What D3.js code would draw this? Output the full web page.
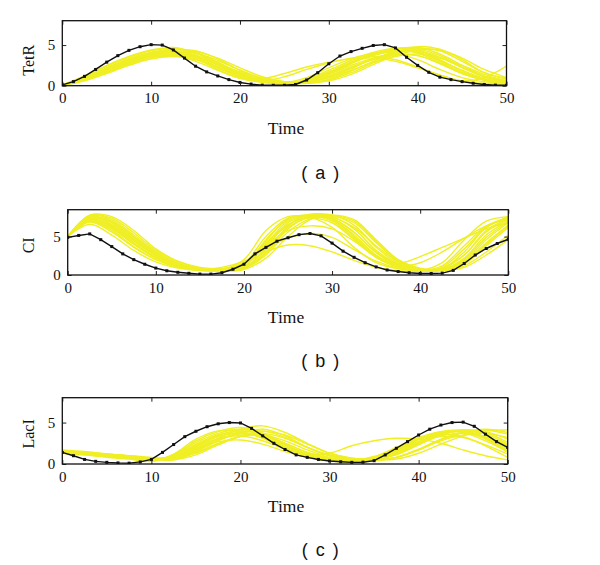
<!DOCTYPE html>
<html><head><meta charset="utf-8">
<script src="https://cdn.jsdelivr.net/npm/d3@7"></script>
<style>body{margin:0;background:#fff}svg{display:block}</style>
</head><body>
<svg id="chart" width="600" height="565"></svg>
<script>
// ---------- DATA ----------
const panelNames = ["TetR", "CI", "LacI"];
const panelCaptions = ["( a )", "( b )", "( c )"];
const xTicks = [0, 10, 20, 30, 40, 50];
const yTicks = [0, 5];
const yMax = [8, 8.5, 8];

const timeBlack = [0,1.25,2.5,3.75,5,6.25,7.5,8.75,10,11.25,12.5,13.75,15,16.25,17.5,18.75,20,21.25,22.5,23.75,25,26.25,27.5,28.75,30,31.25,32.5,33.75,35,36.25,37.5,38.75,40,41.25,42.5,43.75,45,46.25,47.5,48.75,50];
const tetrBlack = [0.1,0.5,1.15,2.0,2.9,3.7,4.35,4.8,5.05,5.0,4.4,3.4,2.4,1.7,1.2,0.75,0.4,0.2,0.07,0.05,0.05,0.15,0.7,1.6,2.7,3.65,4.2,4.6,4.95,5.05,4.65,3.5,2.5,1.65,1.05,0.75,0.5,0.3,0.15,0.07,0.05];
const ciBlack = [4.9,5.15,5.35,4.6,3.7,2.75,2.0,1.4,0.9,0.55,0.35,0.22,0.12,0.12,0.3,0.75,1.4,2.75,3.6,4.4,4.85,5.25,5.4,5.1,4.15,3.1,2.3,1.6,1.05,0.65,0.45,0.3,0.2,0.2,0.25,0.6,1.5,2.6,3.45,4.1,4.65];
const laciBlack = [1.4,1.0,0.55,0.32,0.2,0.13,0.1,0.25,0.55,1.4,2.35,3.3,3.95,4.5,4.85,5.0,4.95,4.3,3.4,2.5,1.75,1.1,0.8,0.55,0.37,0.27,0.2,0.22,0.4,1.1,1.9,2.7,3.5,4.2,4.7,5.0,5.05,4.55,3.6,2.7,2.0];

const timeYellow = [0,2.5,5,7.5,10,12.5,15,17.5,20,22.5,25,27.5,30,32.5,35,37.5,40,42.5,45,47.5,50];
const tetrYellow = [
  [0.1,1.0,2.2,3.3,4.1,4.3,3.6,2.3,1.1,0.5,0.3,0.7,1.7,2.9,3.9,4.4,4.0,2.8,1.5,0.7,0.4],
  [0.0,0.7,1.7,2.7,3.5,3.8,3.3,2.2,1.1,0.5,0.4,1.0,2.2,3.3,4.0,4.0,3.2,2.0,1.0,0.5,0.3],
  [0.1,1.1,2.4,3.5,4.3,4.6,4.1,2.9,1.6,0.7,0.3,0.4,1.0,2.1,3.3,4.2,4.5,3.7,2.3,1.1,0.5],
  [0.1,0.8,1.8,2.8,3.5,3.7,3.0,1.9,0.9,0.6,1.1,2.0,2.8,3.4,3.6,3.2,2.3,1.3,0.6,0.3,0.2],
  [0.0,0.9,2.0,3.1,3.9,4.4,4.3,3.3,1.9,0.9,0.4,0.3,0.7,1.6,2.8,3.9,4.6,4.3,3.0,1.6,0.8],
  [0.1,0.9,2.0,3.0,3.7,4.1,3.7,2.6,1.4,0.6,0.3,0.4,1.1,2.2,3.3,4.1,4.3,3.5,2.2,1.1,0.5],
  [0.0,0.6,1.5,2.5,3.3,3.7,3.5,2.6,1.5,0.7,0.4,0.6,1.4,2.5,3.4,3.9,3.7,2.7,1.5,0.7,0.3],
  [0.1,1.2,2.5,3.6,4.4,4.7,4.0,2.6,1.3,0.5,0.2,0.5,1.5,2.8,3.9,4.6,4.4,3.2,1.8,0.8,0.4],
  [0.0,0.8,1.9,3.0,3.8,4.1,3.5,2.3,1.2,0.9,1.5,2.3,2.9,3.3,3.4,3.0,2.2,1.3,0.6,1.0,2.4],
  [0.1,0.9,1.9,2.9,3.7,4.2,4.2,3.4,2.2,1.1,0.5,0.3,0.6,1.4,2.6,3.7,4.4,4.4,3.4,2.0,1.0],
  [0.0,0.7,1.6,2.6,3.3,3.6,3.2,2.2,1.1,0.5,0.2,0.4,1.2,2.3,3.2,3.8,3.7,2.8,1.6,0.8,0.4],
  [0.1,1.0,2.2,3.3,4.1,4.5,4.0,2.8,1.5,0.7,0.3,0.5,1.4,2.7,3.8,4.5,4.7,3.9,2.5,1.2,0.6],
  [0.0,0.9,2.0,3.1,3.9,4.0,3.3,2.0,0.9,0.4,0.2,0.8,1.9,3.1,4.1,4.6,4.2,3.0,1.6,0.7,0.3],
  [0.1,0.7,1.7,2.7,3.6,4.1,4.0,3.1,1.9,0.9,0.4,0.3,0.8,1.8,3.0,4.1,4.8,4.5,3.2,1.6,0.9],
  [0.0,0.8,1.9,2.9,3.6,3.9,3.6,2.7,1.7,0.9,0.5,0.5,1.0,1.9,2.9,3.6,3.9,3.4,2.5,1.4,0.6],
  [0.1,1.0,2.1,3.2,4.0,4.2,3.8,2.5,1.2,0.5,0.3,0.6,1.6,2.8,3.7,4.3,4.1,3.1,1.9,0.9,0.4]
];
const ciYellow = [
  [5.0,7.3,6.3,4.2,2.3,1.1,0.6,0.6,1.5,5.0,7.4,7.7,7.0,4.8,2.3,1.0,0.6,0.8,3.0,6.2,7.4],
  [5.0,7.7,7.2,5.2,3.0,1.5,0.8,0.6,0.9,3.5,6.8,7.8,7.8,6.5,3.6,1.5,0.7,0.6,1.8,4.6,6.8],
  [5.0,7.0,5.8,3.7,2.0,1.0,0.6,0.7,2.0,5.8,7.6,7.5,6.2,3.6,1.6,0.8,0.6,1.6,4.6,7.0,7.6],
  [5.0,7.5,6.8,4.7,2.7,1.4,0.7,0.5,0.7,2.2,5.0,7.2,7.8,7.2,4.6,2.0,0.9,0.6,1.0,2.6,4.6],
  [5.0,7.1,6.0,4.0,2.2,1.1,0.7,0.8,1.6,4.2,6.6,7.4,6.8,4.6,2.3,1.2,1.6,3.0,4.8,6.4,7.2],
  [5.0,7.8,7.4,5.5,3.2,1.7,0.9,0.7,0.9,3.0,6.4,7.9,7.6,6.0,3.2,1.4,0.7,0.6,1.4,3.8,6.2],
  [5.0,6.6,5.2,3.2,1.7,0.9,0.6,0.7,1.5,3.0,3.9,3.8,3.0,1.9,1.0,0.6,0.5,1.0,3.4,6.2,7.6],
  [5.0,7.4,6.6,4.6,2.6,1.3,0.7,0.6,1.1,4.0,7.0,7.7,7.4,5.6,2.9,1.2,0.6,0.7,2.2,5.2,7.0],
  [5.0,7.2,6.2,4.1,2.3,1.2,0.7,0.7,1.3,4.6,7.2,7.8,7.2,5.2,2.6,1.1,0.6,0.9,2.6,5.6,7.2],
  [5.0,7.6,7.0,5.0,2.9,1.5,0.8,0.6,0.8,2.6,5.6,7.3,7.6,6.8,4.2,1.8,0.8,0.6,1.2,3.0,5.2],
  [5.0,6.9,5.6,3.6,2.0,1.1,0.8,1.0,1.8,3.4,4.8,5.4,4.9,3.3,1.8,0.9,0.6,1.2,3.8,6.4,7.4],
  [5.0,7.8,7.6,5.8,3.4,1.8,1.0,0.8,0.9,2.8,6.0,7.6,7.8,7.0,4.4,1.9,0.8,0.6,1.5,4.0,6.4],
  [5.0,7.3,6.4,4.4,2.5,1.3,0.8,0.7,1.2,4.4,7.3,7.8,7.2,5.0,2.5,1.1,0.6,0.8,2.6,5.8,7.3],
  [5.0,7.0,6.1,4.0,2.3,1.2,0.8,0.8,1.4,3.8,5.8,6.4,6.0,4.4,2.4,1.5,2.4,3.6,4.8,6.0,6.8],
  [5.0,7.5,6.9,4.9,2.8,1.4,0.8,0.7,1.0,3.3,6.2,7.5,7.5,6.2,3.8,1.7,0.7,0.7,2.0,4.9,6.9],
  [5.0,7.2,6.5,4.5,2.6,1.3,0.7,0.6,1.2,3.9,6.5,7.6,7.3,5.5,3.0,1.3,0.6,0.7,1.7,4.2,6.5]
];
const laciYellow = [
  [1.5,1.3,1.1,0.9,0.6,0.9,2.3,3.5,4.0,3.6,2.3,1.2,0.6,0.5,0.8,1.8,3.0,3.8,4.0,3.3,2.2],
  [1.6,1.4,1.2,1.0,0.7,0.6,1.5,2.8,3.8,4.2,3.4,2.0,1.0,0.6,0.5,1.2,2.4,3.5,4.1,3.9,3.0],
  [1.4,1.2,0.9,0.7,0.4,1.1,2.8,3.9,4.4,3.7,2.3,1.1,0.5,0.4,0.9,2.0,3.2,3.9,3.8,2.8,1.5],
  [1.5,1.3,1.1,0.9,0.6,0.5,1.1,2.3,3.3,3.7,3.1,2.0,1.1,0.6,0.4,0.8,1.8,3.0,3.8,4.1,3.6],
  [1.3,1.1,0.9,0.7,0.5,0.8,2.0,3.1,3.4,2.8,1.8,1.2,1.3,2.2,2.8,3.1,3.0,2.5,1.7,1.0,0.5],
  [1.6,1.4,1.2,1.0,0.8,0.7,1.7,3.1,4.2,4.6,3.8,2.5,1.3,0.7,0.5,0.8,1.7,2.9,3.8,4.2,3.8],
  [1.4,1.2,1.0,0.8,0.5,0.8,1.9,2.7,2.9,2.4,1.5,0.8,0.4,0.4,0.8,1.7,2.7,3.3,3.2,2.3,1.2],
  [1.5,1.3,1.0,0.8,0.5,0.9,2.4,3.5,4.0,3.5,2.3,1.2,0.6,0.4,0.6,1.5,2.7,3.7,4.1,3.6,2.4],
  [1.7,1.5,1.2,1.0,0.7,0.7,1.6,2.9,3.8,4.0,3.2,2.0,1.0,0.5,0.5,1.1,2.3,3.5,4.1,3.8,2.6],
  [1.4,1.2,1.0,0.8,0.5,0.8,2.1,3.3,3.8,3.3,2.1,1.1,0.5,0.3,0.7,1.7,3.0,3.9,4.0,3.1,1.6],
  [1.5,1.3,1.1,0.9,0.6,0.5,1.4,2.5,3.3,3.5,2.8,1.7,0.8,0.4,0.4,0.8,1.7,2.8,3.5,3.7,3.2],
  [1.6,1.3,1.1,0.9,0.6,1.0,2.6,3.7,4.2,3.7,2.5,1.4,0.7,0.4,0.6,1.4,2.6,3.6,3.9,3.2,1.8],
  [1.3,1.1,0.8,0.6,0.3,1.2,3.0,4.0,3.9,3.1,1.9,0.9,0.4,0.3,0.8,1.9,3.0,3.6,3.3,2.2,0.8],
  [1.5,1.3,1.1,0.9,0.7,0.6,1.3,2.4,3.4,3.9,3.5,2.4,1.3,0.7,0.5,0.6,1.3,2.4,3.4,4.0,4.1],
  [1.4,1.2,1.0,0.8,0.6,0.7,1.8,3.0,3.6,3.4,2.5,1.4,0.7,0.4,0.6,1.3,2.5,3.4,3.7,3.3,2.3],
  [1.6,1.4,1.1,0.9,0.6,0.9,2.2,3.3,3.7,3.2,2.0,1.0,0.5,0.3,0.6,1.6,2.9,3.8,3.9,3.0,1.4]
];
const blackSeries = [tetrBlack, ciBlack, laciBlack];
const yellowSeries = [tetrYellow, ciYellow, laciYellow];

// ---------- LAYOUT ----------
const panels = [
  {left: 62.3, right: 506.5, top: 20.7, bottom: 85.7, capY: 173},
  {left: 67.7, right: 508.3, top: 209.7, bottom: 275, capY: 361},
  {left: 62.3, right: 507.7, top: 397.7, bottom: 464, capY: 550}
];
const serif = "'Liberation Serif', 'DejaVu Serif', serif";
const sans = "'Liberation Sans', Arial, sans-serif";

const svg = d3.select("#chart");

panels.forEach((p, i) => {
  const x = d3.scaleLinear().domain([0, 50]).range([p.left, p.right]);
  const y = d3.scaleLinear().domain([0, yMax[i]]).range([p.bottom, p.top]);
  const g = svg.append("g");

  const clipId = "clip" + i;
  svg.append("clipPath").attr("id", clipId).append("rect")
    .attr("x", p.left).attr("y", p.top)
    .attr("width", p.right - p.left).attr("height", p.bottom - p.top);

  const plot = g.append("g").attr("clip-path", `url(#${clipId})`);

  const yLine = d3.line().x((d, k) => x(timeYellow[k])).y(d => y(d)).curve(d3.curveCatmullRom.alpha(0.5));
  plot.selectAll("path.yel").data(yellowSeries[i]).join("path")
    .attr("class", "yel")
    .attr("d", yLine)
    .attr("fill", "none")
    .attr("stroke", "#efef24")
    .attr("stroke-width", 1.4);

  const bLine = d3.line().x((d, k) => x(timeBlack[k])).y(d => y(d));
  plot.append("path").datum(blackSeries[i])
    .attr("d", bLine).attr("fill", "none").attr("stroke", "#111").attr("stroke-width", 1.4);
  plot.selectAll("rect.mk").data(blackSeries[i]).join("rect")
    .attr("class", "mk")
    .attr("x", (d, k) => x(timeBlack[k]) - 1.5)
    .attr("y", d => y(d) - 1.5)
    .attr("width", 3).attr("height", 3).attr("fill", "#111");

  // axes (ticks inward, box)
  const axB = d3.axisBottom(x).tickValues(xTicks).tickSize(-4).tickPadding(7).tickFormat(d3.format("d"));
  const axT = d3.axisTop(x).tickValues(xTicks).tickSize(-4).tickFormat("");
  const axL = d3.axisLeft(y).tickValues(yTicks).tickSize(-4).tickPadding(7).tickFormat(d3.format("d"));
  const axR = d3.axisRight(y).tickValues(yTicks).tickSize(-4).tickFormat("");
  const gb = g.append("g").attr("transform", `translate(0,${p.bottom})`).call(axB);
  const gt = g.append("g").attr("transform", `translate(0,${p.top})`).call(axT);
  const gl = g.append("g").attr("transform", `translate(${p.left},0)`).call(axL);
  const gr = g.append("g").attr("transform", `translate(${p.right},0)`).call(axR);
  [gb, gt, gl, gr].forEach(a => {
    a.select(".domain").remove();
    a.selectAll("line").attr("stroke", "#222").attr("stroke-width", 1);
    a.selectAll("text").attr("font-family", serif).attr("font-size", 15).attr("fill", "#111");
  });
  gb.selectAll("text").attr("dy", "0.71em");
  g.append("rect").attr("x", p.left).attr("y", p.top)
    .attr("width", p.right - p.left).attr("height", p.bottom - p.top)
    .attr("fill", "none").attr("stroke", "#111").attr("stroke-width", 1.3);

  // labels
  g.append("text").attr("x", 286).attr("y", p.bottom + 48)
    .attr("text-anchor", "middle").attr("font-family", serif).attr("font-size", 17.5).attr("fill", "#111")
    .text("Time");
  g.append("text")
    .attr("transform", `translate(34,${(p.top + p.bottom) / 2 + (i === 0 ? 7 : 3)}) rotate(-90)`)
    .attr("text-anchor", "middle").attr("font-family", serif).attr("font-size", 16).attr("fill", "#111")
    .text(panelNames[i]);
  g.append("text").attr("x", 321).attr("y", p.capY + 6)
    .attr("text-anchor", "middle").attr("font-family", sans).attr("font-size", 18).attr("fill", "#111")
    .attr("letter-spacing", 1.5)
    .attr("xml:space", "preserve")
    .text(panelCaptions[i]);
});
</script>
</body></html>
